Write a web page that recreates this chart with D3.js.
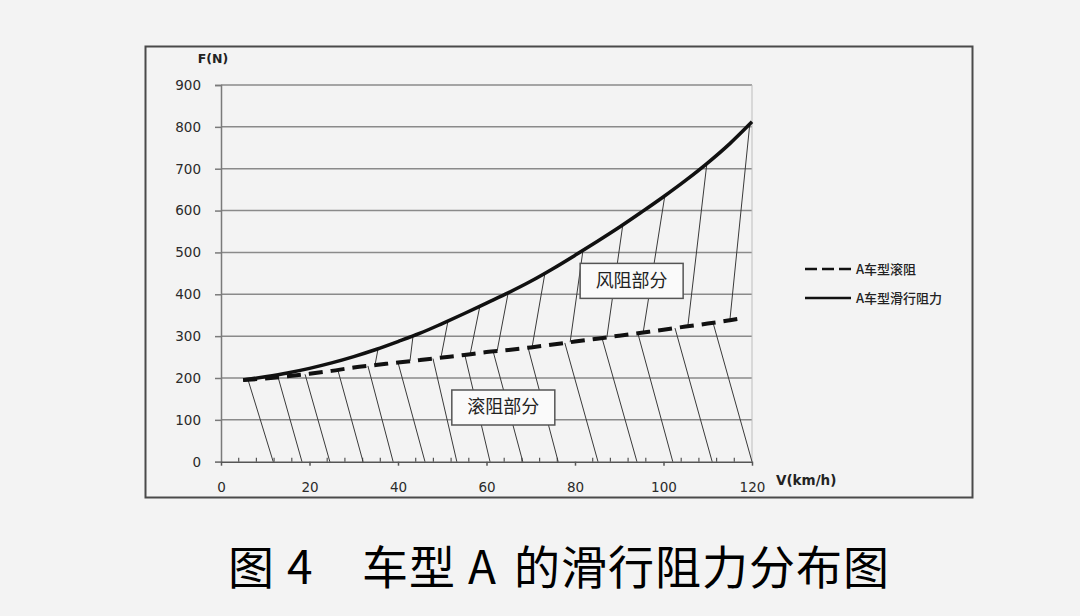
<!DOCTYPE html>
<html>
<head>
<meta charset="utf-8">
<script src="https://cdn.jsdelivr.net/npm/d3@7"></script>
<style>
  body { margin: 0; background: #f3f3f3; }
  svg { display: block; }
  text { font-family: "DejaVu Sans", Verdana, sans-serif; }
  .cjk { font-family: "Noto Sans CJK SC", sans-serif; }
</style>
</head>
<body>
<div id="chart"></div>
<script>
// speeds (km/h) and resistance values (N)
var speeds = [5, 10, 15, 20, 25, 30, 35, 40, 45, 50, 55, 60, 65, 70, 75, 80, 85, 90, 95, 100, 105, 110, 115, 120];
var totalForce = [195, 203, 212, 223, 236, 251, 268, 287, 307, 330, 354, 379, 404, 431, 461, 493, 526, 560, 596, 633, 672, 714, 760, 812];
var rollSpeeds = [5, 10, 15, 20, 25, 30, 35, 40, 45, 50, 55, 60, 65, 70, 75, 80, 85, 90, 95, 100, 105, 110, 115, 118];
var rollForce = [195, 199, 204, 210, 217, 225, 231, 237, 243, 249, 255, 262, 267, 273, 280, 287, 294, 301, 308, 315, 323, 330, 338, 343];

var xTicks = [0, 20, 40, 60, 80, 100, 120];
var yTicks = [0, 100, 200, 300, 400, 500, 600, 700, 800, 900];

// hatch strokes: [speed on upper line, speed on lower line]
var windHatch = [[35.5, 34.8], [43.4, 42.7], [51.3, 49.7], [58.5, 56.3], [64.9, 62.4], [73.2, 70.3],
  [81.8, 78.9], [90.8, 87.2], [100.3, 95.4], [109.8, 105.5], [119.5, 115.0]];
var rollHatch = [[6.1, 11.8], [12.9, 18.3], [19.0, 24.6], [26.4, 32.1], [33.2, 38.9], [40.0, 46.1],
  [47.9, 53.3], [55.1, 60.8], [61.5, 68.2], [69.4, 76.2], [77.7, 85.2], [86.1, 94.0],
  [94.2, 102.1], [102.6, 111.0], [111.2, 120]];

var legendNames = ["A车型滚阻", "A车型滑行阻力"];
var areaNames = ["风阻部分", "滚阻部分"];
var titleParts = ["图", "4", "车型", "A", "的滑行阻力分布图"];

var svgWidth = 1080;
var svgHeight = 616;

var svg = d3.select("#chart")
  .append("svg")
  .attr("width", svgWidth)
  .attr("height", svgHeight);

// outer frame
svg.append("rect")
  .attr("x", 145.5).attr("y", 46.5)
  .attr("width", 827).attr("height", 451)
  .attr("fill", "#f3f3f3")
  .attr("stroke", "#4a4a4a")
  .attr("stroke-width", 2);

var x = d3.scaleLinear().domain([0, 120]).range([221, 752]);
var y = d3.scaleLinear().domain([0, 900]).range([461.7, 85]);

// helper to find values on the curves
function interp(xs, ys, v) {
  return d3.scaleLinear().domain(xs).range(ys).clamp(true)(v);
}

// grid lines
svg.append("g").selectAll("line")
  .data(yTicks.filter(d => d > 0))
  .enter().append("line")
  .attr("x1", x(0)).attr("x2", x(120))
  .attr("y1", d => y(d)).attr("y2", d => y(d))
  .attr("stroke", "#8a8a8a")
  .attr("stroke-width", 1.5);

// right border of plot
svg.append("line")
  .attr("x1", x(120)).attr("x2", x(120))
  .attr("y1", y(900)).attr("y2", y(0))
  .attr("stroke", "#bdbdbd").attr("stroke-width", 1);

// y axis
var leftAxis = d3.axisLeft(y).tickValues(yTicks).tickSize(6).tickPadding(14);
var yAxis = svg.append("g")
  .attr("transform", `translate(${x(0)},0)`)
  .call(leftAxis);
yAxis.select(".domain").attr("stroke", "#7a7a7a").attr("stroke-width", 1.5);
yAxis.selectAll(".tick line").attr("stroke", "#7a7a7a").attr("stroke-width", 1.5);
yAxis.selectAll("text").attr("font-size", 13.5).attr("fill", "#2a2a2a")
  .attr("font-family", "DejaVu Sans");

// x axis
var bottomAxis = d3.axisBottom(x).tickValues(xTicks).tickSize(4).tickPadding(17).tickSizeOuter(0);
var xAxis = svg.append("g")
  .attr("transform", `translate(0,${y(0)})`)
  .call(bottomAxis);
xAxis.select(".domain").attr("stroke", "#555").attr("stroke-width", 1.5);
xAxis.selectAll(".tick line").attr("stroke", "#555").attr("stroke-width", 1.5);
xAxis.selectAll("text").attr("font-size", 13.5).attr("fill", "#2a2a2a")
  .attr("font-family", "DejaVu Sans");

// minor x ticks every 4 km/h, pointing up
svg.append("g").selectAll("line")
  .data(d3.range(4, 120, 4).filter(d => d % 20 !== 0))
  .enter().append("line")
  .attr("x1", d => x(d)).attr("x2", d => x(d))
  .attr("y1", y(0)).attr("y2", y(0) - 4)
  .attr("stroke", "#555").attr("stroke-width", 1.2);

// axis titles
svg.append("text")
  .attr("x", 213).attr("y", 63)
  .attr("font-size", 12.5).attr("font-weight", "bold")
  .attr("text-anchor", "middle")
  .attr("fill", "#222")
  .text("F(N)");
svg.append("text")
  .attr("x", 776).attr("y", 485)
  .attr("font-size", 13.5).attr("font-weight", "bold")
  .attr("fill", "#222")
  .text("V(km/h)");

// hatching
var hatch = svg.append("g")
  .attr("stroke", "#3a3a3a")
  .attr("stroke-width", 1);

hatch.selectAll(".wind")
  .data(windHatch)
  .enter().append("line")
  .attr("class", "wind")
  .attr("x1", d => x(d[0]))
  .attr("y1", d => y(interp(speeds, totalForce, d[0])))
  .attr("x2", d => x(d[1]))
  .attr("y2", d => y(interp(rollSpeeds, rollForce, d[1])));

hatch.selectAll(".roll")
  .data(rollHatch)
  .enter().append("line")
  .attr("class", "roll")
  .attr("x1", d => x(d[0]))
  .attr("y1", d => y(interp(rollSpeeds, rollForce, d[0])))
  .attr("x2", d => x(d[1]))
  .attr("y2", y(0));

// curves
var line = d3.line()
  .x(d => x(d[0]))
  .y(d => y(d[1]))
  .curve(d3.curveMonotoneX);

svg.append("path")
  .datum(d3.zip(rollSpeeds, rollForce))
  .attr("d", line)
  .attr("fill", "none")
  .attr("stroke", "#111")
  .attr("stroke-width", 4)
  .attr("stroke-dasharray", "14,8");

svg.append("path")
  .datum(d3.zip(speeds, totalForce))
  .attr("d", line)
  .attr("fill", "none")
  .attr("stroke", "#111")
  .attr("stroke-width", 3.5);

// area labels
var areaPos = [[92.8, 432], [63.8, 129.5]];
var areaBox = [[103, 35], [103, 35]];
areaNames.forEach(function(name, i) {
  var cx = x(areaPos[i][0]);
  var cy = y(areaPos[i][1]);
  svg.append("rect")
    .attr("x", cx - areaBox[i][0] / 2).attr("y", cy - areaBox[i][1] / 2)
    .attr("width", areaBox[i][0]).attr("height", areaBox[i][1])
    .attr("fill", "#fafafa")
    .attr("stroke", "#555").attr("stroke-width", 1.5);
  svg.append("text")
    .attr("class", "cjk")
    .attr("x", cx).attr("y", cy + 6)
    .attr("text-anchor", "middle")
    .attr("font-size", 18)
    .attr("fill", "#222")
    .text(name);
});

// legend
var legend = svg.append("g").attr("transform", "translate(805,269)");
legendNames.forEach(function(name, i) {
  var g = legend.append("g").attr("transform", `translate(0,${i * 29})`);
  g.append("line")
    .attr("x1", 0).attr("x2", 46)
    .attr("y1", 0).attr("y2", 0)
    .attr("stroke", "#111")
    .attr("stroke-width", 2.5)
    .attr("stroke-dasharray", i === 0 ? "12,5" : null);
  g.append("text")
    .attr("class", "cjk")
    .attr("x", 51).attr("y", 5)
    .attr("font-size", 13)
    .attr("font-weight", 500)
    .attr("fill", "#222")
    .text(name);
});

// caption
var titlePos = [228, 287, 362, 468, 514];
var caption = svg.append("text")
  .attr("class", "cjk")
  .attr("y", 584)
  .attr("font-size", 46)
  .attr("letter-spacing", 1)
  .attr("fill", "#000");
caption.selectAll("tspan")
  .data(titleParts)
  .enter().append("tspan")
  .attr("x", (d, i) => titlePos[i])
  .text(d => d);
</script>
</body>
</html>
